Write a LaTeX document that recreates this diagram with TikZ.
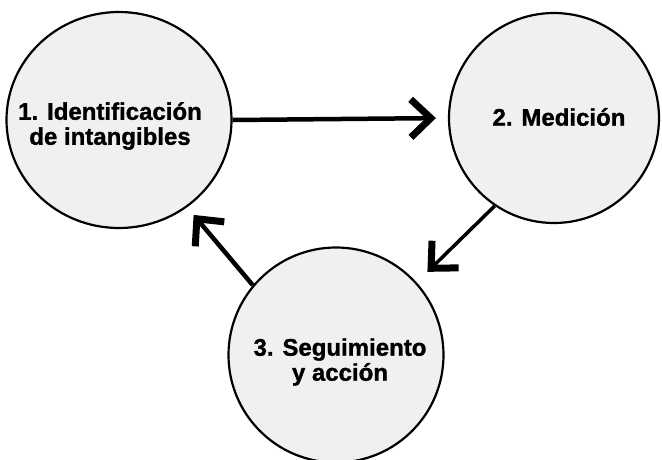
\documentclass[tikz,border=0pt]{standalone}
\usepackage{fontspec}
\setmainfont{Liberation Sans}
\newfontfamily\lblfont[BoldFeatures={FakeBold=1.2}]{Liberation Sans}
\usetikzlibrary{arrows.meta,shapes.geometric}
\begin{document}
\begin{tikzpicture}[x=1pt,y=-1pt,
  stage/.style={ellipse, draw=black, line width=2.2pt, fill=black!6, inner sep=0pt},
  lbl/.style={font=\lblfont\bfseries\fontsize{24}{25}\selectfont, align=center, inner sep=0pt},
  flow/.style={line width=4.5pt, -{Straight Barb[length=20pt,width=38pt,line width=7pt]}}]
\useasboundingbox (0,0) rectangle (662,459);
\node[stage, minimum width=225pt, minimum height=216pt] (c1) at (119,120) {};
\node[stage, minimum width=210pt, minimum height=210pt] (c2) at (554,118) {};
\node[stage, minimum width=215pt, minimum height=215pt] (c3) at (336,355) {};
\node[lbl] (t1) at (110,126) {1. Identificación\\de intangibles};
\node[lbl] (t2) at (559,117) {2. Medición};
\node[lbl] (t3) at (340,362) {3. Seguimiento\\y acción};
\draw[flow, shorten >=12pt] (c1.east) -- (c2.west);
\draw[flow, line width=3.5pt, shorten >=15pt] (c2.236) -- (c3.42);
\draw[flow, shorten >=10pt] (c3.140) -- (c1.308);
\end{tikzpicture}
\end{document}
